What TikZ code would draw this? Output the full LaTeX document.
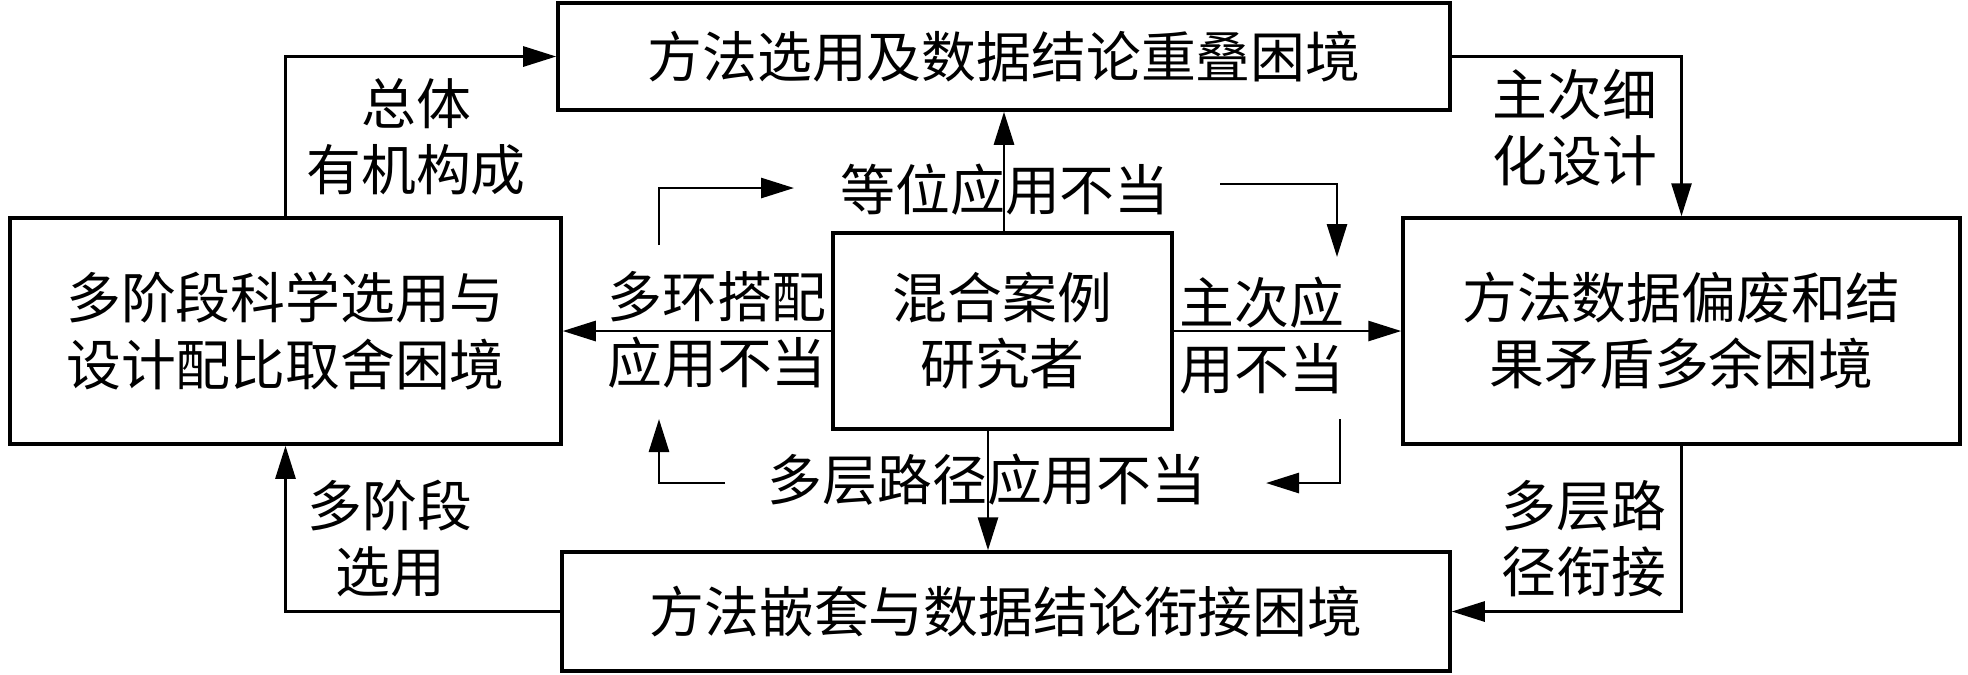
\documentclass[tikz,border=0pt]{standalone}
\usepackage{fontspec}
\setmainfont{Noto Sans CJK SC}
\usetikzlibrary{arrows.meta}
\begin{document}
\begin{tikzpicture}[
  box/.style={rectangle, draw, line width=1pt, minimum width=#1, inner sep=0pt, align=center},
  lab/.style={inner sep=0pt, align=center},
  arr/.style={line width=0.8pt, -{Triangle[length=3.3mm,width=2mm]}},
  font=\fontsize{15.6}{18.8}\selectfont
]
\useasboundingbox (0,0) rectangle (19.68,-6.74);
\node[box=8.92cm, minimum height=1.07cm] (overlap) at (10.04,-0.565) {方法选用及数据结论重叠困境};
\node[box=5.51cm, minimum height=2.26cm] (choice) at (2.855,-3.31) {多阶段科学选用与\\设计配比取舍困境};
\node[box=5.57cm, minimum height=2.26cm] (redundancy) at (16.815,-3.31) {方法数据偏废和结\\果矛盾多余困境};
\node[box=3.39cm, minimum height=1.96cm] (researcher) at (10.025,-3.31) {混合案例\\研究者};
\node[box=8.88cm, minimum height=1.19cm] (nesting) at (10.06,-6.115) {方法嵌套与数据结论衔接困境};

\node[lab] (equal) at (10.05,-1.90) {等位应用不当};
\node[lab] (layer) at (9.87,-4.80) {多层路径应用不当};
\node[lab] (ring) at (7.17,-3.30) {多环搭配\\应用不当};
\node[lab] (major) at (12.62,-3.36) {主次应\\用不当};
\node[lab] (whole) at (4.16,-1.37) {总体\\有机构成};
\node[lab] (detail) at (15.75,-1.275) {主次细\\化设计};
\node[lab] (link) at (15.84,-5.385) {多层路\\径衔接};
\node[lab] (stage) at (3.90,-5.39) {多阶段\\选用};

\coordinate (up) at ([xshift=0.15mm]researcher.north);
\coordinate (down) at ([xshift=-1.45mm]researcher.south);
\draw[arr] (up) -- (up |- overlap.south);
\draw[arr] (down) -- (down |- nesting.north);
\draw[arr] (researcher.west) -- (researcher.west -| choice.east);
\draw[arr] (researcher.east) -- (researcher.east -| redundancy.west);

\draw[arr] (choice.north) |- (overlap.west);
\draw[arr] (overlap.east) -| (redundancy.north);
\draw[arr] (redundancy.south) |- (nesting.east);
\draw[arr] (nesting.west) -| (choice.south);

\coordinate (tl) at (6.59,-2.45);
\coordinate (tlend) at (7.94,-1.88);
\coordinate (tr) at (12.20,-1.84);
\coordinate (trend) at (13.37,-2.57);
\coordinate (br) at (13.40,-4.19);
\coordinate (brend) at (12.66,-4.83);
\coordinate (bl) at (7.25,-4.83);
\coordinate (blend) at (6.59,-4.19);
\draw[arr] (tl) |- (tlend);
\draw[arr] (tr) -| (trend);
\draw[arr] (br) |- (brend);
\draw[arr] (bl) -| (blend);
\end{tikzpicture}
\end{document}
